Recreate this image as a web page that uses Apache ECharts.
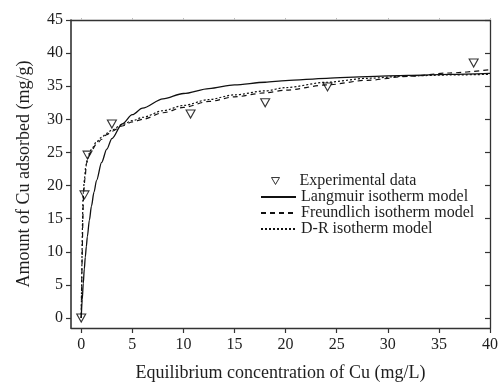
<!DOCTYPE html>
<html>
<head>
<meta charset="utf-8">
<script src="https://cdn.jsdelivr.net/npm/echarts@6/dist/echarts.min.js"></script>
<style>
html,body{margin:0;padding:0;background:#fff;}
#chart{width:501px;height:387px;}
</style>
</head>
<body>
<div id="chart"></div>
<script>
// Experimental data
var expC = [0, 0.32, 0.62, 3.0, 10.7, 18.0, 24.1, 38.4];
var expQ = [0, 18.6, 24.6, 29.3, 30.8, 32.5, 34.9, 38.5];

// Langmuir model curve
var langC = [0, 0.1, 0.2, 0.3, 0.4, 0.5, 0.6, 0.8, 1, 1.25, 1.5, 2, 2.5, 3, 4, 5, 6, 8, 10, 12.5, 15, 18, 20, 24, 28, 32, 36, 40];
var langQ = [0, 2.8, 5.2, 7.4, 9.2, 10.8, 12.3, 14.8, 16.9, 19.0, 20.8, 23.5, 25.5, 27.1, 29.3, 30.7, 31.7, 33.1, 33.9, 34.65, 35.2, 35.6, 35.85, 36.2, 36.45, 36.65, 36.8, 36.95];

// Freundlich model curve
var freC = [0, 0.25, 0.36, 0.52, 0.75, 1, 1.5, 2, 2.5, 3, 4, 5, 6, 8, 10, 12.5, 15, 18, 20, 24, 28, 32, 36, 40];
var freQ = [0, 19.2, 21.0, 23.4, 24.5, 25.3, 26.3, 27.0, 27.7, 28.2, 29.0, 29.6, 30.0, 31.0, 31.8, 32.7, 33.4, 34.0, 34.4, 35.2, 35.9, 36.5, 37.0, 37.5];

// D-R model curve
var drC = [0, 0.2, 0.3, 0.45, 0.6, 0.8, 1, 1.5, 2, 2.5, 3, 4, 5, 6, 8, 10, 12.5, 15, 18, 20, 24, 28, 32, 36, 40];
var drQ = [0, 18.8, 20.8, 22.9, 24.0, 24.9, 25.5, 26.6, 27.3, 27.9, 28.4, 29.2, 29.8, 30.3, 31.3, 32.1, 33.0, 33.7, 34.3, 34.8, 35.6, 36.2, 36.55, 36.7, 36.8];

var xTicks = [0, 5, 10, 15, 20, 25, 30, 35, 40];
var yTicks = [0, 5, 10, 15, 20, 25, 30, 35, 40, 45];

var seriesNames = ['Experimental data', 'Langmuir isotherm model', 'Freundlich isotherm model', 'D-R isotherm model'];
var xTitle = 'Equilibrium concentration of Cu (mg/L)';
var yTitle = 'Amount of Cu adsorbed (mg/g)';

function pairs(xs, ys) { return xs.map(function (x, i) { return [x, ys[i]]; }); }

var FONT = 'Liberation Serif';
var INK = '#1e1e1e';
var AX = '#333';
var triPath = 'path://M0,0L10,0L5,8.66Z';

var chart = echarts.init(document.getElementById('chart'), null, {renderer: 'canvas'});
chart.setOption({
  backgroundColor: '#fff',
  animation: false,
  grid: {left: 71, top: 20, width: 420, height: 310, containLabel: false},
  legend: [{
    data: [{name: seriesNames[0], icon: triPath,
            itemStyle: {color: 'rgba(255,255,255,0)', borderColor: '#000', borderWidth: 1}}],
    orient: 'vertical',
    left: 271, top: 173, padding: 0,
    itemWidth: 8, itemHeight: 7, itemGap: 0,
    itemStyle: {color: 'rgba(255,255,255,0)', borderColor: '#000', borderWidth: 1},
    textStyle: {fontFamily: FONT, fontSize: 16, color: INK, lineHeight: 16, padding: [0, 0, 0, 15]}
  }, {
    data: seriesNames.slice(1),
    orient: 'vertical',
    left: 260, top: 189, padding: 0,
    itemWidth: 35, itemHeight: 16, itemGap: 0,
    itemStyle: {opacity: 0},
    textStyle: {fontFamily: FONT, fontSize: 16, color: INK, lineHeight: 16}
  }],
  xAxis: [{
    type: 'value', min: -1, max: 40, position: 'bottom',
    axisLine: {show: true, onZero: false, lineStyle: {color: AX, width: 1.3}},
    axisTick: {show: true, customValues: xTicks, length: 5, lineStyle: {color: AX, width: 1.2}},
    axisLabel: {customValues: xTicks, fontFamily: FONT, fontSize: 16, color: INK, margin: 9},
    splitLine: {show: false},
    name: xTitle, nameLocation: 'middle', nameGap: 36,
    nameTextStyle: {fontFamily: FONT, fontSize: 18, color: INK}
  }, {
    type: 'value', min: -1, max: 40, position: 'top',
    axisLine: {show: true, onZero: false, lineStyle: {color: AX, width: 1.3}},
    axisTick: {show: true, customValues: xTicks, length: 2, lineStyle: {color: '#bbb', width: 1}},
    axisLabel: {show: false},
    splitLine: {show: false}
  }],
  yAxis: [{
    type: 'value', min: -1.5, max: 45, position: 'left',
    axisLine: {show: true, onZero: false, lineStyle: {color: AX, width: 1.6}},
    axisTick: {show: true, customValues: yTicks, length: 5, lineStyle: {color: AX, width: 1.2}},
    axisLabel: {customValues: yTicks, fontFamily: FONT, fontSize: 16, color: INK, margin: 8},
    splitLine: {show: false},
    name: yTitle, nameLocation: 'middle', nameGap: 38,
    nameTextStyle: {fontFamily: FONT, fontSize: 18, color: INK}
  }, {
    type: 'value', min: -1.5, max: 45, position: 'right',
    axisLine: {show: true, onZero: false, lineStyle: {color: AX, width: 1.3}},
    axisTick: {show: true, inside: true, customValues: yTicks, length: 5, lineStyle: {color: AX, width: 1.2}},
    axisLabel: {show: false},
    splitLine: {show: false}
  }],
  series: [{
    name: seriesNames[0], type: 'scatter', xAxisIndex: 0, yAxisIndex: 0,
    data: pairs(expC, expQ),
    symbol: triPath, symbolSize: [9, 8], symbolKeepAspect: false,
    itemStyle: {color: 'rgba(255,255,255,0)', borderColor: '#000', borderWidth: 1.1},
    z: 5
  }, {
    name: seriesNames[1], type: 'line', data: pairs(langC, langQ),
    showSymbol: false, symbol: 'none', smooth: 0.3, smoothMonotone: 'x',
    itemStyle: {color: '#111'},
    lineStyle: {color: '#111', width: 1.3, type: 'solid'}
  }, {
    name: seriesNames[2], type: 'line', data: pairs(freC, freQ),
    showSymbol: false, symbol: 'none', smooth: 0.3, smoothMonotone: 'x',
    itemStyle: {color: '#111'},
    lineStyle: {color: '#111', width: 1.2, type: [5, 4]}
  }, {
    name: seriesNames[3], type: 'line', data: pairs(drC, drQ),
    showSymbol: false, symbol: 'none', smooth: 0.3, smoothMonotone: 'x',
    itemStyle: {color: '#111'},
    lineStyle: {color: '#111', width: 1.2, type: [2, 2]}
  }]
});
</script>
</body>
</html>
